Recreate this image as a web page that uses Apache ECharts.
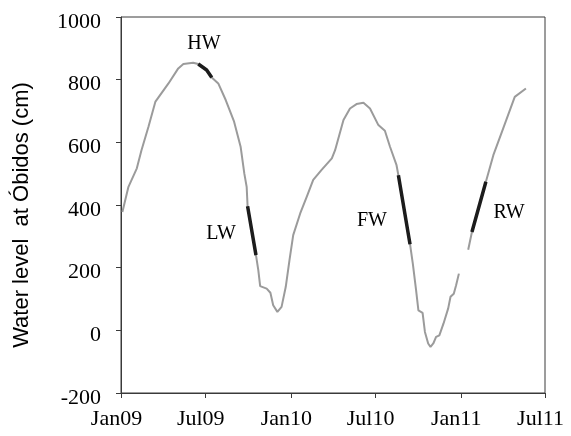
<!DOCTYPE html>
<html>
<head>
<meta charset="utf-8">
<script src="https://cdn.jsdelivr.net/npm/echarts@6/dist/echarts.min.js"></script>
<style>
  html, body { margin: 0; padding: 0; background: #ffffff; }
  #chart { width: 571px; height: 436px; }
</style>
</head>
<body>
<div id="chart"></div>
<script>
// Daily-ish water level readings at Óbidos (cm); null marks the missing stretch
const dates = [
  '2009-01-04','2009-01-17','2009-02-04','2009-02-14','2009-03-01','2009-03-16',
  '2009-04-13','2009-05-04','2009-05-15','2009-06-05','2009-06-16','2009-07-04',
  '2009-07-15','2009-07-29','2009-08-14','2009-09-01','2009-09-15','2009-09-23',
  '2009-09-28','2009-09-30','2009-10-18','2009-10-23','2009-10-27','2009-11-10',
  '2009-11-18','2009-11-24','2009-12-03','2009-12-12','2009-12-21','2009-12-29',
  '2010-01-06','2010-01-21','2010-02-04','2010-02-18','2010-03-08','2010-03-30',
  '2010-04-06','2010-04-24','2010-05-08','2010-05-22','2010-06-06','2010-06-20',
  '2010-07-08','2010-07-22','2010-08-02','2010-08-16','2010-08-20','2010-09-14',
  '2010-09-20','2010-09-27','2010-10-02','2010-10-11','2010-10-16','2010-10-23',
  '2010-10-28','2010-11-03','2010-11-09','2010-11-16','2010-11-25','2010-12-05',
  '2010-12-10','2010-12-17','2010-12-22','2010-12-28','2011-01-06','2011-01-17',
  '2011-01-25','2011-02-24','2011-03-12','2011-04-02','2011-04-27','2011-05-21'
];
const level = [
  378, 458, 517, 575, 650, 730,
  788, 836, 850, 854, 850, 831,
  807, 788, 735, 666, 586, 500,
  458, 396, 240, 192, 141, 133,
  120, 80, 59, 75, 139, 224,
  304, 373, 426, 480, 512, 549,
  575, 671, 708, 722, 726, 708,
  655, 637, 586, 527, 495, 275,
  213, 128, 64, 56, -5, -42,
  -53, -42, -21, -16, 22, 70,
  107, 117, 144, 181, null, 257,
  314, 474, 559, 644, 745, 772
];

// Hydrological phases highlighted in black
const phaseNames = ['HW', 'LW', 'FW', 'RW'];
const phaseStart = ['2009-06-16', '2009-09-30', '2010-08-20', '2011-01-25'];
const phaseEnd   = ['2009-07-15', '2009-10-18', '2010-09-14', '2011-02-24'];

// Axis ticks
const tickDates  = ['2009-01-01', '2009-07-01', '2010-01-01', '2010-07-01', '2011-01-01', '2011-07-01'];
const tickLabels = ['Jan09', 'Jul09', 'Jan10', 'Jul10', 'Jan11', 'Jul11'];
const yMin = -200, yMax = 1000, yStep = 200;

const ts = d => new Date(d + 'T00:00:00Z').getTime();
const tickTimes = tickDates.map(ts);

const fullLine = dates.map((d, i) => [ts(d), level[i]]);

// Black overlay: points inside each phase, separated by gaps
const phaseLine = [];
phaseNames.forEach((name, p) => {
  const a = ts(phaseStart[p]), b = ts(phaseEnd[p]);
  dates.forEach((d, i) => {
    const t = ts(d);
    if (t >= a && t <= b) phaseLine.push([t, level[i]]);
  });
  phaseLine.push([b + 86400000, null]);
});

const serif = 'Liberation Serif';
const chart = echarts.init(document.getElementById('chart'), null, { renderer: 'canvas' });

// Phase label placement (pixel positions of the annotation text)
const labelPos = { HW: [204, 44], LW: [221, 234], FW: [372, 221], RW: [509, 213] };

chart.setOption({
  animation: false,
  backgroundColor: '#ffffff',
  grid: {
    left: 121, top: 17, right: 26, bottom: 43,
    show: true, borderColor: '#3a3a3a', borderWidth: 1, backgroundColor: 'transparent'
  },
  xAxis: {
    type: 'value',
    min: tickTimes[0],
    max: tickTimes[tickTimes.length - 1],
    axisLine: { show: true, onZero: false, lineStyle: { color: '#3a3a3a', width: 1 } },
    axisTick: { show: true, inside: false, length: 5, customValues: tickTimes,
                lineStyle: { color: '#3a3a3a' } },
    axisLabel: {
      customValues: tickTimes,
      formatter: v => tickLabels[tickTimes.indexOf(v)] || '',
      fontFamily: serif, fontSize: 22, color: '#000', margin: 15, hideOverlap: false,
      padding: [0, 9, 0, 0],
      showMinLabel: true, showMaxLabel: true
    },
    splitLine: { show: false }
  },
  yAxis: {
    type: 'value',
    min: yMin, max: yMax, interval: yStep,
    axisLine: { show: true, lineStyle: { color: '#3a3a3a', width: 1 } },
    axisTick: { show: true, inside: false, length: 5, lineStyle: { color: '#3a3a3a' } },
    axisLabel: {
      formatter: v => String(v),
      fontFamily: serif, fontSize: 22, color: '#000', margin: 20,
      verticalAlign: 'top', lineHeight: 10
    },
    splitLine: { show: false }
  },
  graphic: [
    {
      type: 'text', x: 22, y: 215, rotation: Math.PI / 2,
      style: {
        text: 'Water level  at Óbidos (cm)', fill: '#000',
        font: '22px "Liberation Sans"', align: 'center', verticalAlign: 'middle'
      }
    }
  ].concat(phaseNames.map(n => ({
    type: 'text', x: labelPos[n][0], y: labelPos[n][1],
    style: { text: n, fill: '#000', font: '20px "Liberation Serif"',
             align: 'center', verticalAlign: 'middle' }
  }))),
  series: [
    {
      type: 'line', data: fullLine, showSymbol: false, connectNulls: false,
      lineStyle: { color: '#9b9b9b', width: 2 }, z: 2
    },
    {
      type: 'line', data: phaseLine, showSymbol: false, connectNulls: false,
      lineStyle: { color: '#1c1c1c', width: 3.5 }, z: 3
    }
  ]
});
</script>
</body>
</html>
